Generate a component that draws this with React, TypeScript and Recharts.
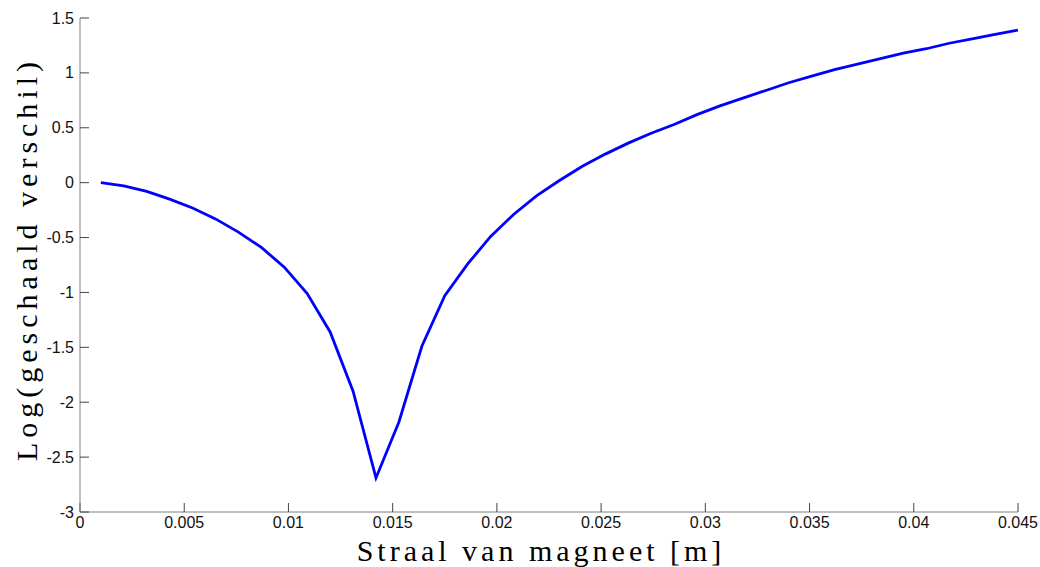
import { LineChart, Line, XAxis, YAxis, Label } from 'recharts';

const radius = [
  0.001, 0.0021, 0.0032, 0.0043, 0.0054, 0.0065, 0.0076, 0.0087, 0.0098, 0.0109,
  0.012, 0.0131, 0.0142, 0.0153, 0.0164, 0.0175, 0.0186, 0.0197, 0.0208, 0.0219,
  0.023, 0.0241, 0.0252, 0.0263, 0.0274, 0.0285, 0.0296, 0.0307, 0.0318, 0.0329,
  0.034, 0.0351, 0.0362, 0.0373, 0.0384, 0.0395, 0.0406, 0.0417, 0.0428, 0.0439,
  0.045,
];

const logDiff = [
  0.0, -0.03, -0.08, -0.15, -0.23, -0.33, -0.45, -0.59, -0.77, -1.01,
  -1.36, -1.9, -2.69, -2.18, -1.49, -1.03, -0.74, -0.49, -0.29, -0.12,
  0.02, 0.15, 0.26, 0.36, 0.45, 0.53, 0.62, 0.7, 0.77, 0.84,
  0.91, 0.97, 1.03, 1.08, 1.13, 1.18, 1.22, 1.27, 1.31, 1.35,
  1.39,
];

const xTicks = [0, 0.005, 0.01, 0.015, 0.02, 0.025, 0.03, 0.035, 0.04, 0.045];
const yTicks = [-3, -2.5, -2, -1.5, -1, -0.5, 0, 0.5, 1, 1.5];

const data = radius.map((r, i) => ({ r, v: logDiff[i] }));

const AXIS = '#808080';
const TICK = '#444';
const tickFamily = 'Liberation Sans, Arial, sans-serif';
const labelFont = 'Liberation Serif, serif';

// custom tick text so the size sticks
const XTick = (p: any) => (
  <text x={p.x} y={p.y + 11} textAnchor="middle" fontSize={16} fontFamily={tickFamily} fill="#111">
    {p.payload.value}
  </text>
);

const YTick = (p: any) => (
  <text x={p.x} y={p.y + 5.5} textAnchor="end" fontSize={16} fontFamily={tickFamily} fill="#111">
    {p.payload.value}
  </text>
);

const XLabel = (props: any) => {
  const { viewBox } = props;
  const cx = viewBox.x + viewBox.width / 2 - 8;
  return (
    <text
      x={cx}
      y={viewBox.y + 49}
      textAnchor="middle"
      fontSize={30}
      letterSpacing={4}
      fontFamily={labelFont}
      fill="#000"
    >
      Straal van magneet [m]
    </text>
  );
};

const YLabel = (props: any) => {
  const { viewBox } = props;
  const cx = 26;
  const cy = viewBox.y + viewBox.height / 2 - 6;
  return (
    <text
      x={cx}
      y={cy}
      transform={`rotate(-90, ${cx}, ${cy})`}
      textAnchor="middle"
      dominantBaseline="central"
      fontSize={30}
      letterSpacing={5}
      fontFamily={labelFont}
      fill="#000"
    >
      Log(geschaald verschil)
    </text>
  );
};

export default function App() {
  return (
    <div style={{ position: 'absolute', left: 0, top: 0, width: 1040, height: 567, background: '#fff' }}>
      <LineChart width={1040} height={567} data={data} margin={{ top: 18, right: 22, left: 0, bottom: 0 }}>
        <XAxis
          xAxisId="b"
          dataKey="r"
          type="number"
          domain={[0, 0.045]}
          ticks={xTicks}
          interval={0}
          allowDataOverflow
          height={55}
          stroke={AXIS}
          tickSize={-9}
          tickMargin={14}
          tickLine={{ stroke: TICK }}
          tick={<XTick />}
        >
          <Label content={<XLabel />} />
        </XAxis>
        <XAxis
          xAxisId="t"
          orientation="top"
          dataKey="r"
          type="number"
          domain={[0, 0.045]}
          ticks={xTicks}
          interval={0}
          allowDataOverflow
          height={0}
          stroke={AXIS}
          tickSize={-9}
          tickLine={{ stroke: TICK }}
          tickFormatter={() => ''}
        />
        <YAxis
          yAxisId="l"
          type="number"
          domain={[-3, 1.5]}
          ticks={yTicks}
          interval={0}
          allowDataOverflow
          width={80}
          stroke={AXIS}
          tickSize={-9}
          tickMargin={15}
          tickLine={{ stroke: TICK }}
          tick={<YTick />}
        >
          <Label content={<YLabel />} />
        </YAxis>
        <YAxis
          yAxisId="r"
          orientation="right"
          type="number"
          domain={[-3, 1.5]}
          ticks={yTicks}
          interval={0}
          allowDataOverflow
          width={0}
          stroke={AXIS}
          tickSize={-9}
          tickLine={{ stroke: TICK }}
          tickFormatter={() => ''}
        />
        <Line
          xAxisId="b"
          yAxisId="l"
          dataKey="v"
          type="linear"
          stroke="#0000ff"
          strokeWidth={2.8}
          dot={false}
          isAnimationActive={false}
        />
      </LineChart>
    </div>
  );
}
